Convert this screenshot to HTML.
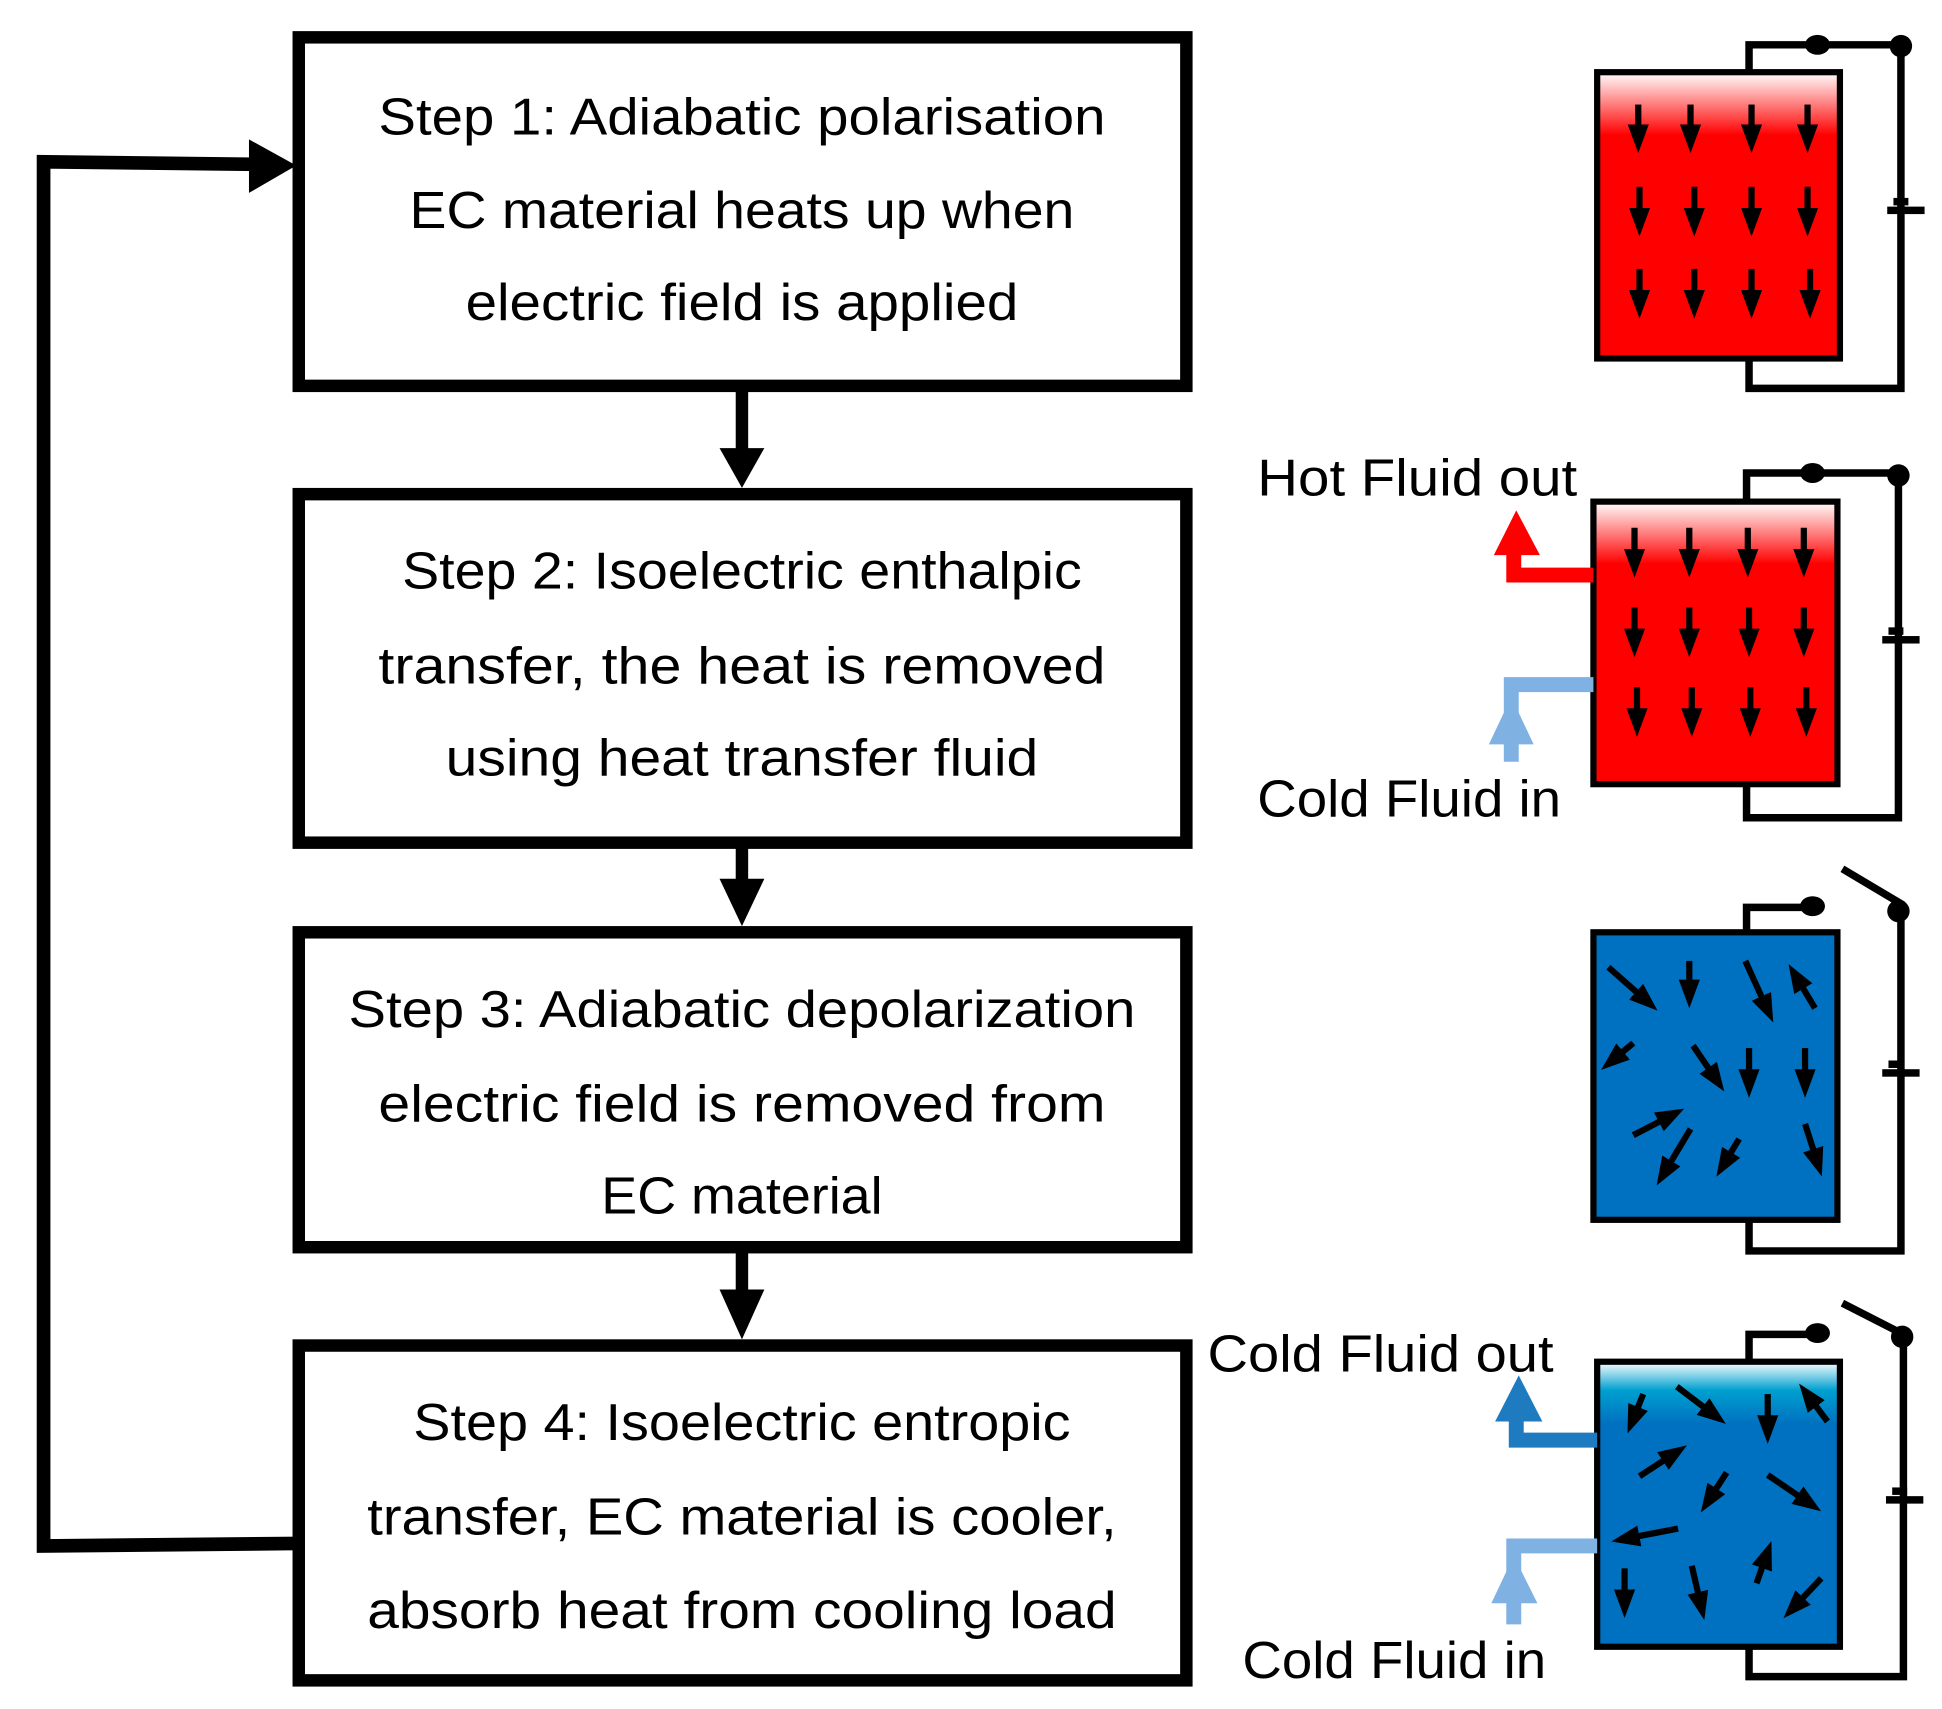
<!DOCTYPE html>
<html><head><meta charset="utf-8"><style>
html,body{margin:0;padding:0;background:#fff}
svg{display:block}
text{font-family:"Liberation Sans",sans-serif;font-size:42px;fill:#000}
</style></head><body>
<svg width="1942" height="1709" viewBox="0 0 1560 1373" preserveAspectRatio="none" xmlns="http://www.w3.org/2000/svg">
<defs>
<linearGradient id="red" x1="0" y1="0" x2="0" y2="1">
<stop offset="0" stop-color="#ffffff"/><stop offset="0.22" stop-color="#ff0000"/><stop offset="1" stop-color="#ff0000"/>
</linearGradient>
<linearGradient id="blue" x1="0" y1="0" x2="0" y2="1">
<stop offset="0" stop-color="#ffffff"/><stop offset="0.1" stop-color="#00a0d0"/><stop offset="0.22" stop-color="#0070c0"/><stop offset="1" stop-color="#0070c0"/>
</linearGradient>
<marker id="ah" markerWidth="4.6" markerHeight="3.4" refX="1" refY="1.7" orient="auto" markerUnits="strokeWidth">
<path d="M0,0 L4.6,1.7 L0,3.4 z" fill="#000"/></marker>
</defs>

<g fill="#fff" stroke="#000" stroke-width="10">
<rect x="240" y="30" width="713" height="280"/>
<rect x="240" y="397" width="713" height="280"/>
<rect x="240" y="749" width="713" height="253"/>
<rect x="240" y="1081" width="713" height="269"/>
</g>
<g stroke="#000" stroke-width="10" fill="#000">
<line x1="596" y1="310" x2="596" y2="365"/><polygon points="578,360 614,360 596,392" stroke="none"/>
<line x1="596" y1="677" x2="596" y2="712"/><polygon points="578,706 614,706 596,744" stroke="none"/>
<line x1="596" y1="1002" x2="596" y2="1040"/><polygon points="578,1036 614,1036 596,1076" stroke="none"/>
</g>
<polyline points="240,1240 35,1242 35,130 205,132" fill="none" stroke="#000" stroke-width="11"/>
<polygon points="200,112 238,133 200,155" fill="#000"/>

<g text-anchor="middle">
<text x="596" y="108" textLength="584" lengthAdjust="spacingAndGlyphs">Step 1: Adiabatic polarisation</text>
<text x="596" y="183" textLength="534" lengthAdjust="spacingAndGlyphs">EC material heats up when</text>
<text x="596" y="257" textLength="444" lengthAdjust="spacingAndGlyphs">electric field is applied</text>
<text x="596" y="473" textLength="546" lengthAdjust="spacingAndGlyphs">Step 2: Isoelectric enthalpic</text>
<text x="596" y="549" textLength="584" lengthAdjust="spacingAndGlyphs">transfer, the heat is removed</text>
<text x="596" y="623" textLength="476" lengthAdjust="spacingAndGlyphs">using heat transfer fluid</text>
<text x="596" y="825" textLength="632" lengthAdjust="spacingAndGlyphs">Step 3: Adiabatic depolarization</text>
<text x="596" y="901" textLength="584" lengthAdjust="spacingAndGlyphs">electric field is removed from</text>
<text x="596" y="975" textLength="226" lengthAdjust="spacingAndGlyphs">EC material</text>
<text x="596" y="1157" textLength="528" lengthAdjust="spacingAndGlyphs">Step 4: Isoelectric entropic</text>
<text x="596" y="1233" textLength="602" lengthAdjust="spacingAndGlyphs">transfer, EC material is cooler,</text>
<text x="596" y="1308" textLength="602" lengthAdjust="spacingAndGlyphs">absorb heat from cooling load</text>
</g>
<g>
<text x="1010" y="398" textLength="257" lengthAdjust="spacingAndGlyphs">Hot Fluid out</text>
<text x="1010" y="656" textLength="244" lengthAdjust="spacingAndGlyphs">Cold Fluid in</text>
<text x="970" y="1102" textLength="278" lengthAdjust="spacingAndGlyphs">Cold Fluid out</text>
<text x="998" y="1348" textLength="244" lengthAdjust="spacingAndGlyphs">Cold Fluid in</text>
</g>

<g fill="none" stroke="#000" stroke-width="6">
<polyline points="1405,57 1405,36 1527,36 1527,312 1405,312 1405,288"/>
<polyline points="1403,402 1403,380 1525,380 1525,657 1403,657 1403,630"/>
<polyline points="1403,748 1403,729 1455,729"/>
<polyline points="1480,698 1527,726 1527,1005 1405,1005 1405,980"/>
<polyline points="1405,1093 1405,1072 1460,1072"/>
<polyline points="1480,1047 1529,1072 1529,1347 1405,1347 1405,1323"/>
</g>
<g fill="#000">
<ellipse cx="1460" cy="36" rx="10" ry="8"/><circle cx="1527" cy="37" r="9"/>
<ellipse cx="1456" cy="380" rx="10" ry="8"/><circle cx="1525" cy="382" r="9"/>
<ellipse cx="1456" cy="728" rx="10" ry="8"/><circle cx="1525" cy="732" r="9"/>
<ellipse cx="1460" cy="1071" rx="10" ry="8"/><circle cx="1528" cy="1074" r="9"/>
<rect x="1516" y="166" width="30" height="6"/><rect x="1521" y="159" width="12" height="6"/>
<rect x="1512" y="511" width="30" height="6"/><rect x="1517" y="504" width="12" height="6"/>
<rect x="1512" y="859" width="30" height="6"/><rect x="1517" y="852" width="12" height="6"/>
<rect x="1515" y="1202" width="30" height="6"/><rect x="1520" y="1195" width="12" height="6"/>
</g>

<g stroke="#000" stroke-width="5">
<rect x="1283" y="58" width="195" height="230" fill="url(#red)"/>
<rect x="1280" y="403" width="196" height="227" fill="url(#red)"/>
<rect x="1280" y="749" width="196" height="231" fill="#0070c0"/>
<rect x="1283" y="1094" width="195" height="229" fill="url(#blue)"/>
</g>

<g>
<polyline points="1280,462 1216,462 1216,440" fill="none" stroke="#ff0000" stroke-width="12"/>
<polygon points="1200,446 1237,446 1218,410" fill="#ff0000"/>
<polyline points="1280,550 1214,550 1214,612" fill="none" stroke="#7fb2e3" stroke-width="12"/>
<polygon points="1196,598 1232,598 1214,560" fill="#7fb2e3"/>
<polyline points="1283,1157 1218,1157 1218,1135" fill="none" stroke="#1f7bc0" stroke-width="12"/>
<polygon points="1201,1142 1239,1142 1220,1105" fill="#1f7bc0"/>
<polyline points="1283,1242 1216,1242 1216,1305" fill="none" stroke="#7fb2e3" stroke-width="12"/>
<polygon points="1198,1288 1235,1288 1216,1250" fill="#7fb2e3"/>
</g>

<g stroke="#000" stroke-width="5" marker-end="url(#ah)">
<line x1="1316" y1="84" x2="1316" y2="105"/><line x1="1358" y1="84" x2="1358" y2="105"/><line x1="1407" y1="84" x2="1407" y2="105"/><line x1="1452" y1="84" x2="1452" y2="105"/>
<line x1="1317" y1="150" x2="1317" y2="172"/><line x1="1361" y1="150" x2="1361" y2="172"/><line x1="1407" y1="150" x2="1407" y2="172"/><line x1="1452" y1="150" x2="1452" y2="172"/>
<line x1="1317" y1="216" x2="1317" y2="238"/><line x1="1361" y1="216" x2="1361" y2="238"/><line x1="1407" y1="216" x2="1407" y2="238"/><line x1="1454" y1="216" x2="1454" y2="238"/>
<line x1="1313" y1="424" x2="1313" y2="446"/><line x1="1357" y1="424" x2="1357" y2="446"/><line x1="1404" y1="424" x2="1404" y2="446"/><line x1="1449" y1="424" x2="1449" y2="446"/>
<line x1="1313" y1="488" x2="1313" y2="510"/><line x1="1357" y1="488" x2="1357" y2="510"/><line x1="1405" y1="488" x2="1405" y2="510"/><line x1="1449" y1="488" x2="1449" y2="510"/>
<line x1="1315" y1="552" x2="1315" y2="574"/><line x1="1359" y1="552" x2="1359" y2="574"/><line x1="1406" y1="552" x2="1406" y2="574"/><line x1="1451" y1="552" x2="1451" y2="574"/>
<line x1="1292" y1="777" x2="1318" y2="800"/><line x1="1357" y1="772" x2="1357" y2="792"/>
<line x1="1402" y1="772" x2="1417" y2="805"/><line x1="1458" y1="810" x2="1446" y2="790"/>
<line x1="1312" y1="838" x2="1300" y2="848"/><line x1="1360" y1="840" x2="1375" y2="862"/>
<line x1="1405" y1="842" x2="1405" y2="864"/><line x1="1450" y1="842" x2="1450" y2="864"/>
<line x1="1312" y1="912" x2="1337" y2="899"/><line x1="1358" y1="907" x2="1340" y2="937"/>
<line x1="1397" y1="915" x2="1388" y2="930"/><line x1="1450" y1="903" x2="1458" y2="928"/>
<line x1="1320" y1="1120" x2="1314" y2="1135"/><line x1="1347" y1="1114" x2="1372" y2="1133"/>
<line x1="1420" y1="1120" x2="1420" y2="1142"/><line x1="1468" y1="1142" x2="1456" y2="1126"/>
<line x1="1317" y1="1186" x2="1340" y2="1171"/><line x1="1387" y1="1183" x2="1376" y2="1200"/>
<line x1="1420" y1="1185" x2="1448" y2="1204"/><line x1="1348" y1="1228" x2="1312" y2="1235"/>
<line x1="1411" y1="1272" x2="1417" y2="1255"/><line x1="1305" y1="1260" x2="1305" y2="1282"/>
<line x1="1359" y1="1258" x2="1365" y2="1284"/><line x1="1463" y1="1268" x2="1445" y2="1287"/>
</g>
</svg>
</body></html>
